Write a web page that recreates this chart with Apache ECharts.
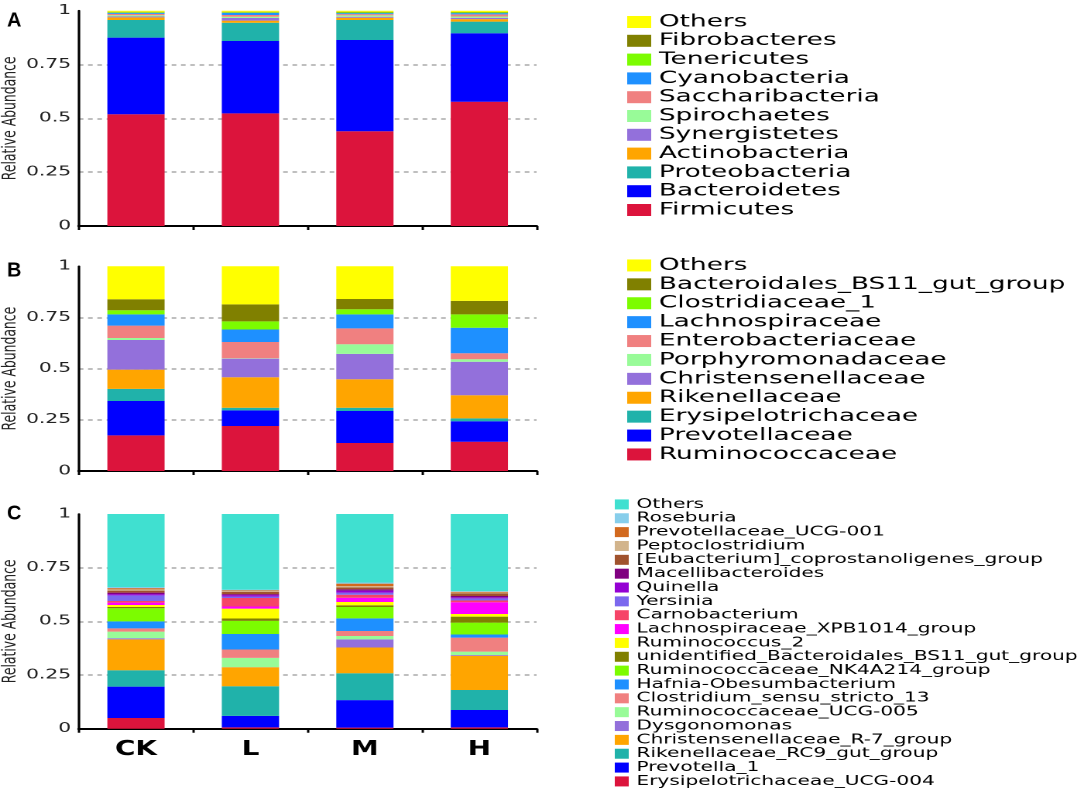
<!DOCTYPE html>
<html>
<head>
<meta charset="utf-8">
<script src="https://cdn.jsdelivr.net/npm/echarts@6/dist/echarts.min.js"></script>
<style>
  html, body { margin: 0; padding: 0; background: #fff; overflow: hidden; }
  /* the source figure is horizontally stretched, so the chart is drawn narrow and widened */
  #chart { width: 700px; height: 791px; transform: scaleX(1.548571); transform-origin: 0 0; }
</style>
</head>
<body>
<div id="chart"></div>
<script>
const groups = ['CK', 'L', 'M', 'H'];

// panel A - phylum level, bottom of the stack first
const phylumNames = ['Firmicutes', 'Bacteroidetes', 'Proteobacteria', 'Actinobacteria', 'Synergistetes',
    'Spirochaetes', 'Saccharibacteria', 'Cyanobacteria', 'Tenericutes', 'Fibrobacteres', 'Others'];
const phylumColors = ['#DC143C', '#0000FF', '#20B2AA', '#FFA500', '#9370DB',
    '#98FB98', '#F08080', '#1E90FF', '#7CFC00', '#808000', '#FFFF00'];
const phylumCK = [0.519, 0.356, 0.082, 0.012, 0.004, 0.006, 0.006, 0.005, 0.003, 0.002, 0.005];
const phylumL = [0.523, 0.336, 0.085, 0.010, 0.012, 0.006, 0.008, 0.010, 0.003, 0.002, 0.005];
const phylumM = [0.440, 0.424, 0.093, 0.010, 0.005, 0.006, 0.006, 0.005, 0.003, 0.003, 0.005];
const phylumH = [0.577, 0.318, 0.054, 0.012, 0.006, 0.006, 0.010, 0.006, 0.003, 0.002, 0.006];

// panel B - family level
const familyNames = ['Ruminococcaceae', 'Prevotellaceae', 'Erysipelotrichaceae', 'Rikenellaceae',
    'Christensenellaceae', 'Porphyromonadaceae', 'Enterobacteriaceae', 'Lachnospiraceae',
    'Clostridiaceae_1', 'Bacteroidales_BS11_gut_group', 'Others'];
const familyColors = ['#DC143C', '#0000FF', '#20B2AA', '#FFA500', '#9370DB',
    '#98FB98', '#F08080', '#1E90FF', '#7CFC00', '#808000', '#FFFF00'];
const familyCK = [0.174, 0.168, 0.059, 0.094, 0.145, 0.010, 0.060, 0.055, 0.020, 0.054, 0.161];
const familyL = [0.220, 0.076, 0.013, 0.149, 0.091, 0.002, 0.079, 0.061, 0.040, 0.083, 0.186];
const familyM = [0.137, 0.156, 0.016, 0.139, 0.124, 0.047, 0.078, 0.068, 0.025, 0.050, 0.160];
const familyH = [0.143, 0.100, 0.014, 0.113, 0.164, 0.012, 0.029, 0.125, 0.065, 0.066, 0.169];

// panel C - genus level
const genusNames = ['Erysipelotrichaceae_UCG-004', 'Prevotella_1', 'Rikenellaceae_RC9_gut_group',
    'Christensenellaceae_R-7_group', 'Dysgonomonas', 'Ruminococcaceae_UCG-005',
    'Clostridium_sensu_stricto_13', 'Hafnia-Obesumbacterium', 'Ruminococcaceae_NK4A214_group',
    'unidentified_Bacteroidales_BS11_gut_group', 'Ruminococcus_2', 'Lachnospiraceae_XPB1014_group',
    'Carnobacterium', 'Yersinia', 'Quinella', 'Macellibacteroides',
    '[Eubacterium]_coprostanoligenes_group', 'Peptoclostridium', 'Prevotellaceae_UCG-001',
    'Roseburia', 'Others'];
const genusColors = ['#DC143C', '#0000FF', '#20B2AA', '#FFA500', '#9370DB', '#98FB98',
    '#F08080', '#1E90FF', '#7CFC00', '#808000', '#FFFF00', '#FF00FF',
    '#F64468', '#7B68EE', '#9400D3', '#800080', '#A0522D', '#D2B48C',
    '#D2691E', '#87CEEB', '#40E0D0'];
const genusCK = [0.050, 0.146, 0.076, 0.144, 0.005, 0.031, 0.015, 0.033, 0.061, 0.006, 0.009,
    0.011, 0.008, 0.026, 0.006, 0.007, 0.009, 0.006, 0.006, 0.005, 0.340];
const genusL = [0.006, 0.054, 0.138, 0.088, 0.001, 0.043, 0.039, 0.072, 0.061, 0.011, 0.046,
    0.010, 0.040, 0.006, 0.007, 0.005, 0.011, 0.003, 0.004, 0.003, 0.352];
const genusM = [0.005, 0.128, 0.125, 0.120, 0.038, 0.016, 0.023, 0.059, 0.053, 0.008, 0.015,
    0.020, 0.014, 0.010, 0.009, 0.006, 0.009, 0.006, 0.012, 0.005, 0.319];
const genusH = [0.006, 0.081, 0.093, 0.160, 0.003, 0.016, 0.065, 0.015, 0.055, 0.028, 0.012,
    0.055, 0.008, 0.010, 0.005, 0.006, 0.012, 0.004, 0.004, 0.003, 0.359];

const yTicks = [0, 0.25, 0.5, 0.75, 1];

const FONT = 'DejaVu Sans';
const STRETCH = 1084 / 700;

function buildSeries(names, colors, perGroup, axisIndex) {
    return names.map((name, i) => ({
        name: name,
        type: 'bar',
        stack: 'panel' + axisIndex,
        xAxisIndex: axisIndex,
        yAxisIndex: axisIndex,
        barWidth: '50%',
        itemStyle: { color: colors[i] },
        emphasis: { disabled: true },
        data: perGroup.map(values => values[i])
    }));
}

function buildLegend(names, colors, opts) {
    const items = names.map((n, i) => ({ name: n, itemStyle: { color: colors[i] } })).reverse();
    return Object.assign({
        orient: 'vertical',
        icon: 'rect',
        padding: 0,
        itemGap: 0,
        selectedMode: false,
        data: items
    }, opts);
}

function xAxis(gridIndex, showLabels) {
    return {
        type: 'category',
        gridIndex: gridIndex,
        data: groups,
        axisLine: { lineStyle: { color: '#000', width: 2 } },
        axisTick: { show: true, length: 4, lineStyle: { color: '#000', width: 1.5 } },
        axisLabel: {
            show: showLabels,
            margin: 11,
            fontSize: 20,
            fontWeight: 'bold',
            fontFamily: '"Liberation Sans Narrow", "DejaVu Sans Condensed", "Liberation Sans", sans-serif',
            color: '#000'
        }
    };
}

function yAxis(gridIndex) {
    return {
        type: 'value',
        gridIndex: gridIndex,
        min: yTicks[0],
        max: yTicks[yTicks.length - 1],
        interval: yTicks[1] - yTicks[0],
        name: 'Relative Abundance',
        nameLocation: 'middle',
        nameGap: 26,
        nameTextStyle: { fontSize: 12.4, fontFamily: FONT, color: '#222' },
        axisLine: { show: true, lineStyle: { color: '#000', width: 1.6 } },
        axisTick: { show: false },
        axisLabel: { margin: 5, fontSize: 13, fontFamily: FONT, color: '#222' },
        splitLine: {
            show: true,
            showMinLine: false,
            showMaxLine: false,
            lineStyle: { color: '#aaa', width: 1.5, type: [3, 3] }
        }
    };
}

function panelLetter(letter, y) {
    return {
        type: 'text',
        x: 4.5,
        y: y,
        scaleX: 1 / STRETCH,
        style: {
            text: letter,
            font: 'bold 20px "Liberation Sans"',
            fill: '#000',
            verticalAlign: 'middle'
        }
    };
}

const chart = echarts.init(document.getElementById('chart'), null, { width: 700, height: 791, devicePixelRatio: 2 });

const option = {
    animation: false,
    backgroundColor: '#fff',
    grid: [
        { left: 44.5, width: 302, top: 10.7, height: 215.3 },
        { left: 44.5, width: 302, top: 266.3, height: 204.7 },
        { left: 44.5, width: 302, top: 514, height: 214.7 }
    ],
    xAxis: [xAxis(0, false), xAxis(1, false), xAxis(2, true)],
    yAxis: [yAxis(0), yAxis(1), yAxis(2)],
    legend: [
        buildLegend(phylumNames, phylumColors, {
            left: 405, top: 12.6, itemWidth: 15.5, itemHeight: 12,
            textStyle: { fontSize: 17, lineHeight: 18.8, fontFamily: FONT, color: '#000' }
        }),
        buildLegend(familyNames, familyColors, {
            left: 405, top: 256, itemWidth: 15.5, itemHeight: 12,
            textStyle: { fontSize: 17, lineHeight: 18.9, fontFamily: FONT, color: '#000' }
        }),
        buildLegend(genusNames, genusColors, {
            left: 397, top: 497.5, itemWidth: 9, itemHeight: 10,
            textStyle: { fontSize: 13, lineHeight: 13.85, fontFamily: FONT, color: '#000' }
        })
    ],
    graphic: {
        elements: [panelLetter('A', 21), panelLetter('B', 271), panelLetter('C', 514)]
    },
    series: [].concat(
        buildSeries(phylumNames, phylumColors, [phylumCK, phylumL, phylumM, phylumH], 0),
        buildSeries(familyNames, familyColors, [familyCK, familyL, familyM, familyH], 1),
        buildSeries(genusNames, genusColors, [genusCK, genusL, genusM, genusH], 2)
    )
};

chart.setOption(option);
</script>
</body>
</html>
